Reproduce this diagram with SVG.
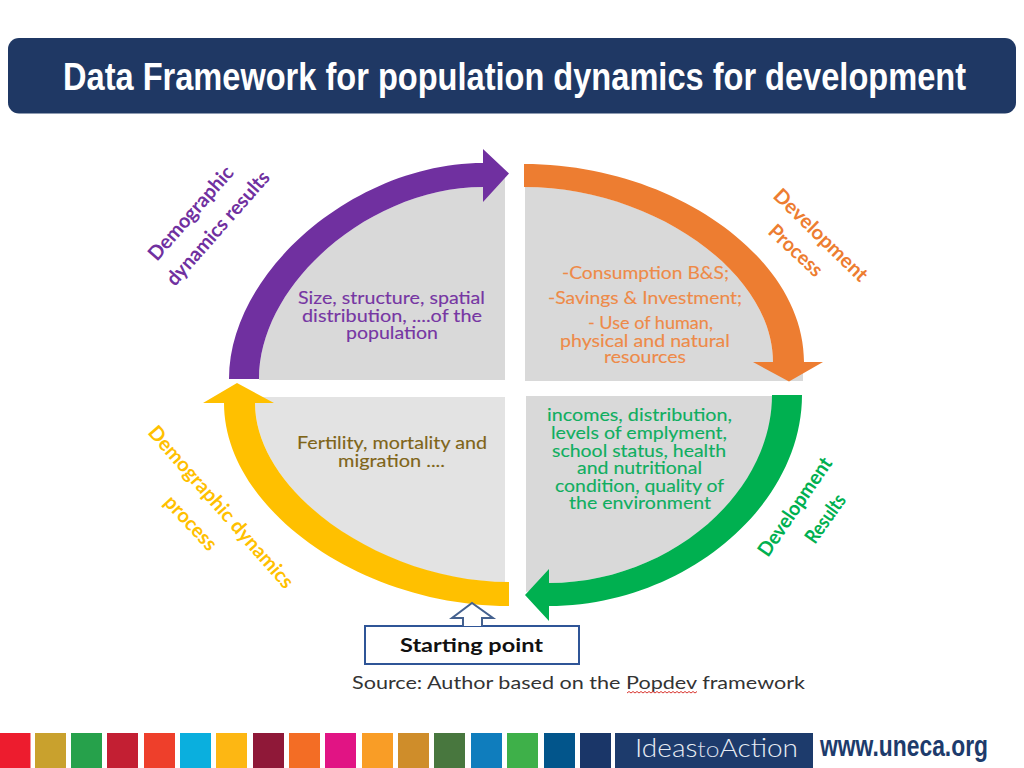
<svg xmlns="http://www.w3.org/2000/svg" width="1024" height="768" viewBox="0 0 1024 768">
<style>
text{font-family:Lato,"Open Sans",sans-serif}
.b{font-size:17px;stroke-width:.12px}
.l{font-size:20px;font-weight:700}
.pu{fill:#7030a0}.or{fill:#ed7d31}.gr{fill:#00b050}.ye{fill:#ffc000}
.gt{fill:#0fae60;stroke:#0fae60}.ot{fill:#ee8a48;stroke:#ee8a48}.yt{fill:#7f6518;stroke:#7f6518}.pt{fill:#7636a3;stroke:#7636a3}
.g1{fill:#d9d9d9}.g2{fill:#e3e3e3}
.sq{stroke:none}
</style>
<rect width="1024" height="768" fill="#fff"/>
<g id="title">
<rect x="8" y="38" width="1008" height="75.500" rx="11" fill="#1f3864"/>
<text transform="translate(63 90) scale(1 1.150)" font-size="33" font-weight="700" fill="#fff" textLength="903" lengthAdjust="spacingAndGlyphs" style="font-family:'Liberation Sans',Arial,sans-serif">Data Framework for population dynamics for development</text>
</g>
<g id="quadrant-demographic-results">
<path class="g1" d="M259 380V379C259 283 371 187 483 187L505 176V380Z"/>
<text class="b pt" x="298" y="304" textLength="187" lengthAdjust="spacingAndGlyphs">Size, structure, spatial</text>
<text class="b pt" x="302" y="322" textLength="180" lengthAdjust="spacingAndGlyphs">distribution, ....of the</text>
<text class="b pt" x="346" y="339" textLength="92" lengthAdjust="spacingAndGlyphs">population</text>
<text class="l pu" transform="translate(157 262) rotate(-48.800)" textLength="118" lengthAdjust="spacingAndGlyphs">Demographic</text>
<text class="l pu" transform="translate(175 287) rotate(-48.600)" textLength="145" lengthAdjust="spacingAndGlyphs">dynamics results</text>
</g>
<g id="quadrant-development-process">
<path class="g1" d="M525 187C652 187 773 272 773 362H803V381H525Z"/>
<text class="b ot" x="562" y="279" textLength="167" lengthAdjust="spacingAndGlyphs">-Consumption B&amp;S;</text>
<text class="b ot" x="548" y="304" textLength="194" lengthAdjust="spacingAndGlyphs">-Savings &amp; Investment;</text>
<text class="b ot" x="588" y="329" textLength="125" lengthAdjust="spacingAndGlyphs">- Use of human,</text>
<text class="b ot" x="560" y="347" textLength="170" lengthAdjust="spacingAndGlyphs">physical and natural</text>
<text class="b ot" x="604" y="363" textLength="82" lengthAdjust="spacingAndGlyphs">resources</text>
<text class="l or" transform="translate(772 197) rotate(44.300)" textLength="123" lengthAdjust="spacingAndGlyphs">Development</text>
<text class="l or" transform="translate(767 233) rotate(43)" textLength="66" lengthAdjust="spacingAndGlyphs">Process</text>
</g>
<g id="quadrant-development-results">
<path class="g1" d="M526 396H773V395C772 495 667 583 549 583L526 592Z"/>
<text class="b gt" x="547" y="421" textLength="185" lengthAdjust="spacingAndGlyphs">incomes, distribution,</text>
<text class="b gt" x="551" y="439" textLength="176" lengthAdjust="spacingAndGlyphs">levels of emplyment,</text>
<text class="b gt" x="552" y="457" textLength="174" lengthAdjust="spacingAndGlyphs">school status, health</text>
<text class="b gt" x="577" y="474" textLength="125" lengthAdjust="spacingAndGlyphs">and nutritional</text>
<text class="b gt" x="555" y="492" textLength="169" lengthAdjust="spacingAndGlyphs">condition, quality of</text>
<text class="b gt" x="569" y="509" textLength="142" lengthAdjust="spacingAndGlyphs">the environment</text>
<text class="l gr" transform="translate(768 558) rotate(-55.600)" textLength="115" lengthAdjust="spacingAndGlyphs">Development</text>
<text class="l gr" transform="translate(815 545) rotate(-54.600)" textLength="55" lengthAdjust="spacingAndGlyphs">Results</text>
</g>
<g id="quadrant-demographic-process">
<path class="g2" d="M255 403C255 492.500 382 582 505 582V397H260Z"/>
<text class="b yt" x="297" y="449" textLength="190" lengthAdjust="spacingAndGlyphs">Fertility, mortality and</text>
<text class="b yt" x="338" y="467" textLength="107" lengthAdjust="spacingAndGlyphs">migration ....</text>
<text class="l ye" transform="translate(147 433) rotate(48.700)" textLength="209" lengthAdjust="spacingAndGlyphs">Demographic dynamics</text>
<text class="l ye" transform="translate(163 503) rotate(47)" textLength="67" lengthAdjust="spacingAndGlyphs">process</text>
</g>
<g id="connectors">
<path class="pu" d="M229 379C229 271 356 163 483 163V149L509 173.500 483 202V187C371 187 259 283 259 379Z"/>
<path class="or" d="M524 164C672 164 804 257 804 362H823L789 381.500 753 362H773C773 272 652 187 524 187Z"/>
<path class="gr" d="M802 395C802 507 683 606 549 606V621L525 595 549 569V583C667 583 772 495 772 395Z"/>
<path class="ye" d="M509 606C361 606 224 509 224 403H203L237 383 274 403H255C255 492.500 382 582 509 582Z"/>
</g>
<g id="starting-point">
<rect x="365" y="626" width="214" height="38" fill="#fff" stroke="#2f5597" stroke-width="2"/>
<path d="M463 626V618H452L472 603 493 618H482V626" fill="#fff" stroke="#44618f" stroke-width="2"/>
<text x="400" y="652" font-size="19" font-weight="700" fill="#111" textLength="143" lengthAdjust="spacingAndGlyphs">Starting point</text>
</g>
<g id="source">
<text x="352" y="689" font-size="17" fill="#333" textLength="453" lengthAdjust="spacingAndGlyphs">Source: Author based on the Popdev framework</text>
<path d="M627 693l2-1.500 2 1.500 2-1.500 2 1.500 2-1.500 2 1.500 2-1.500 2 1.500 2-1.500 2 1.500 2-1.500 2 1.500 2-1.500 2 1.500 2-1.500 2 1.500 2-1.500 2 1.500 2-1.500 2 1.500 2-1.500 2 1.500 2-1.500 2 1.500 2-1.500 2 1.500 2-1.500 2 1.500 2-1.500 2 1.500 2-1.500 2 1.500 2-1.500 2 1.500 2-1.500" fill="none" stroke="#d9362f" stroke-width="1"/>
</g>
<g id="footer">
<rect class="sq" x="0" y="733" width="30.500" height="35" fill="#ed1c2e"/>
<rect class="sq" x="35" y="733" width="31" height="35" fill="#c9a12d"/>
<rect class="sq" x="71" y="733" width="31" height="35" fill="#26a14b"/>
<rect class="sq" x="107" y="733" width="31" height="35" fill="#c31f33"/>
<rect class="sq" x="144" y="733" width="31" height="35" fill="#ee3f2b"/>
<rect class="sq" x="180" y="733" width="31" height="35" fill="#0aafde"/>
<rect class="sq" x="216" y="733" width="31" height="35" fill="#fdb713"/>
<rect class="sq" x="253" y="733" width="31" height="35" fill="#8f1838"/>
<rect class="sq" x="289" y="733" width="31" height="35" fill="#f36d25"/>
<rect class="sq" x="325" y="733" width="31" height="35" fill="#e11484"/>
<rect class="sq" x="362" y="733" width="31" height="35" fill="#f99d26"/>
<rect class="sq" x="398" y="733" width="31" height="35" fill="#cf8d2a"/>
<rect class="sq" x="434" y="733" width="31" height="35" fill="#48773e"/>
<rect class="sq" x="471" y="733" width="31" height="35" fill="#0f7dbd"/>
<rect class="sq" x="507" y="733" width="31" height="35" fill="#3eb049"/>
<rect class="sq" x="544" y="733" width="31" height="35" fill="#02558b"/>
<rect class="sq" x="580" y="733" width="31" height="35" fill="#1a3668"/>
<rect class="sq" x="615" y="733" width="198" height="35" fill="#1d3b6c"/>
<text x="635" y="757" font-size="25" fill="#e8edf4" textLength="163" lengthAdjust="spacingAndGlyphs" style="font-family:Lato,'Open Sans',sans-serif;font-weight:300">Ideas<tspan font-size="22" fill="#d5dde9">to</tspan>Action</text>
<text transform="translate(820 756) scale(1 1.260)" font-size="23" font-weight="700" fill="#1d3b6c" textLength="168" lengthAdjust="spacingAndGlyphs" style="font-family:'Liberation Sans',Arial,sans-serif">www.uneca.org</text>
</g>
</svg>
